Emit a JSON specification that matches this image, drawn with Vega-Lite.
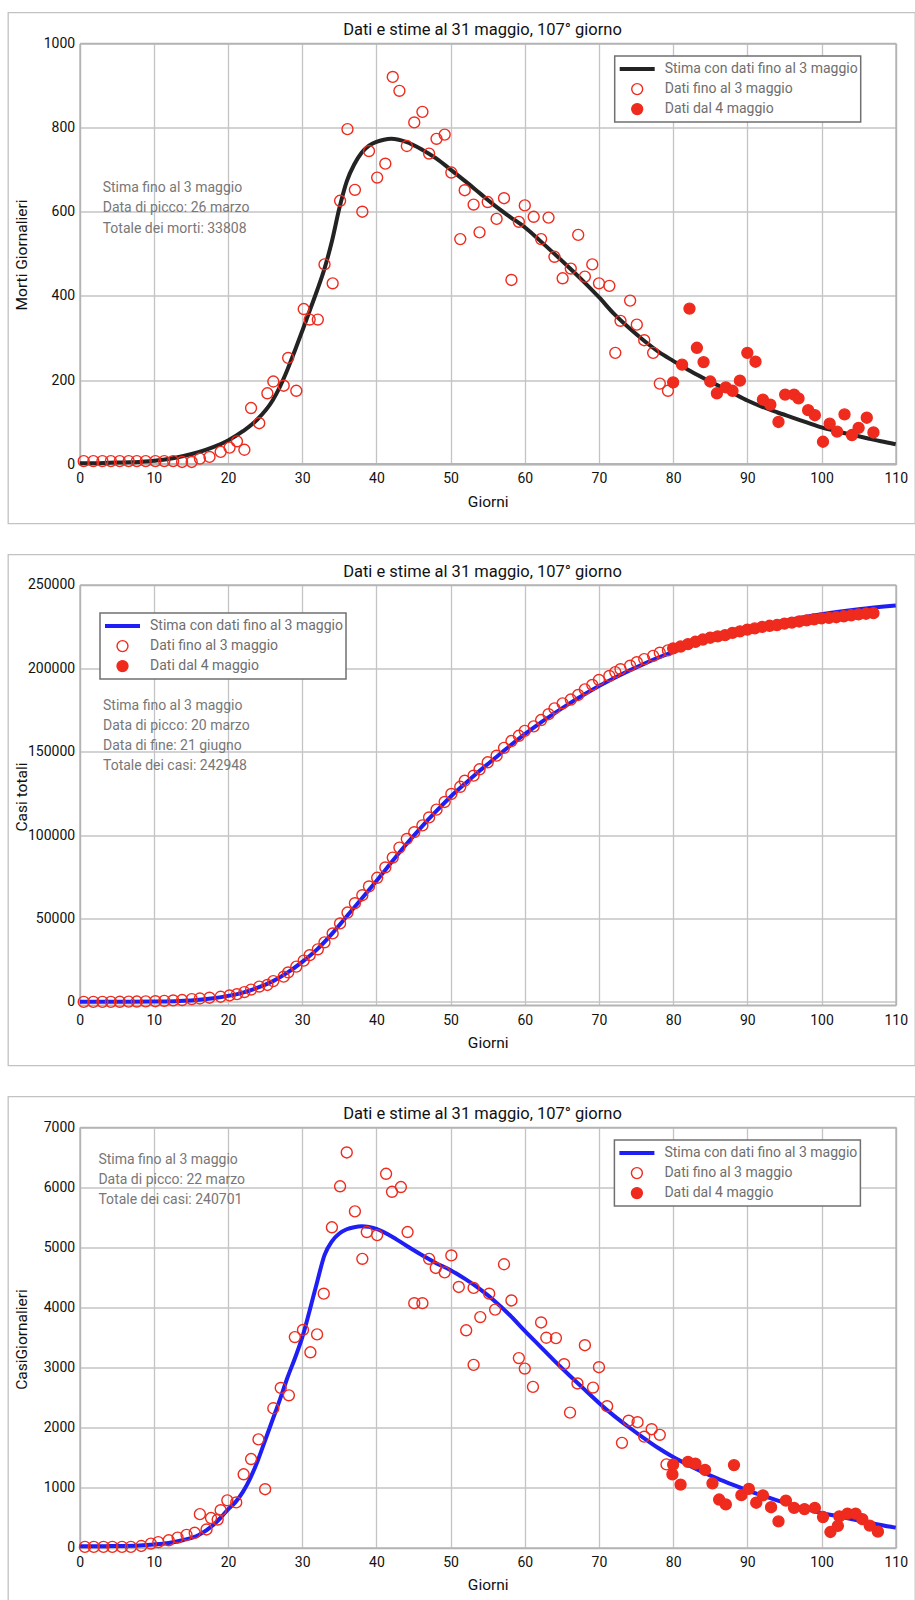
{
  "$schema": "https://vega.github.io/schema/vega-lite/v6.json",
  "padding": {"left": 7, "top": 11.5, "right": 0, "bottom": 0},
  "background": "white",
  "config": {
    "font": "Roboto",
    "view": {"stroke": "#c2c2c2", "strokeWidth": 1.3},
    "axis": {
      "labelFont": "Roboto", "labelFontSize": 14, "labelColor": "#111111",
      "titleFont": "Roboto", "titleFontSize": 15.5, "titleFontWeight": "normal", "titleColor": "#111111",
      "gridColor": "#c4c4c4", "gridWidth": 1.3, "gridOpacity": 1,
      "domainColor": "#b4b4b4", "domainWidth": 1.8,
      "ticks": false, "labelFlush": false, "labelOverlap": false, "format": "d"
    },
    "legend": {
      "labelFont": "Roboto", "labelFontSize": 14, "labelColor": "#6e6e6e", "labelLimit": 0,
      "strokeColor": "#707070", "strokeWidth": 1.5, "fillColor": "white",
      "padding": 3, "rowPadding": 0, "labelOffset": 8, "clipHeight": 20, "symbolOpacity": 1
    },
    "title": {"font": "Roboto", "fontSize": 16.5, "fontWeight": "normal", "color": "#111111", "anchor": "middle"}
  },
  "datasets": {
    "e1": [
      {"d":0,"v":3},{"d":2,"v":3},{"d":4,"v":4},{"d":6,"v":5},{"d":8,"v":6},{"d":10,"v":9},{"d":12,"v":13},{"d":14,"v":20},{"d":16,"v":29},{"d":18,"v":41},{"d":20,"v":57},{"d":22,"v":79},{"d":24,"v":108},{"d":26,"v":152},{"d":27,"v":185},{"d":28,"v":225},{"d":29,"v":270},{"d":30,"v":317},{"d":31,"v":365},{"d":32,"v":413},{"d":33,"v":465},{"d":34,"v":530},{"d":35,"v":608},{"d":36,"v":672},{"d":37,"v":712},{"d":38,"v":740},{"d":39,"v":757},{"d":40,"v":766},{"d":41,"v":771},{"d":42,"v":773},{"d":43,"v":771},{"d":44,"v":766},{"d":46,"v":749},{"d":48,"v":727},{"d":50,"v":700},{"d":52,"v":672},{"d":54,"v":643},{"d":56,"v":614},{"d":58,"v":588},{"d":60,"v":563},{"d":62,"v":532},{"d":64,"v":500},{"d":66,"v":467},{"d":68,"v":433},{"d":70,"v":397},{"d":72,"v":358},{"d":74,"v":325},{"d":76,"v":295},{"d":78,"v":268},{"d":80,"v":246},{"d":82,"v":225},{"d":84,"v":206},{"d":86,"v":188},{"d":88,"v":170},{"d":90,"v":152},{"d":92,"v":137},{"d":94,"v":124},{"d":96,"v":112},{"d":98,"v":100},{"d":100,"v":88},{"d":102,"v":79},{"d":104,"v":71},{"d":106,"v":63},{"d":108,"v":55},{"d":110,"v":48}
    ],
    "p1": [
      {"d":0.54,"v":8,"s":"Dati fino al 3 maggio"},{"d":1.84,"v":8,"s":"Dati fino al 3 maggio"},{"d":3.06,"v":8,"s":"Dati fino al 3 maggio"},{"d":4.2,"v":8,"s":"Dati fino al 3 maggio"},{"d":5.4,"v":8,"s":"Dati fino al 3 maggio"},{"d":6.6,"v":8,"s":"Dati fino al 3 maggio"},{"d":7.7,"v":8,"s":"Dati fino al 3 maggio"},{"d":8.9,"v":8,"s":"Dati fino al 3 maggio"},{"d":10.2,"v":8,"s":"Dati fino al 3 maggio"},{"d":11.4,"v":8,"s":"Dati fino al 3 maggio"},{"d":12.6,"v":8,"s":"Dati fino al 3 maggio"},{"d":13.8,"v":6,"s":"Dati fino al 3 maggio"},{"d":15.1,"v":6,"s":"Dati fino al 3 maggio"},{"d":16.2,"v":14,"s":"Dati fino al 3 maggio"},{"d":17.5,"v":18,"s":"Dati fino al 3 maggio"},{"d":19.0,"v":30,"s":"Dati fino al 3 maggio"},{"d":20.2,"v":40,"s":"Dati fino al 3 maggio"},{"d":21.2,"v":55,"s":"Dati fino al 3 maggio"},{"d":22.2,"v":35,"s":"Dati fino al 3 maggio"},{"d":23.1,"v":134,"s":"Dati fino al 3 maggio"},{"d":24.2,"v":98,"s":"Dati fino al 3 maggio"},{"d":25.3,"v":169,"s":"Dati fino al 3 maggio"},{"d":26.1,"v":197,"s":"Dati fino al 3 maggio"},{"d":27.5,"v":187,"s":"Dati fino al 3 maggio"},{"d":28.1,"v":253,"s":"Dati fino al 3 maggio"},{"d":29.2,"v":175,"s":"Dati fino al 3 maggio"},{"d":30.2,"v":369,"s":"Dati fino al 3 maggio"},{"d":31.0,"v":344,"s":"Dati fino al 3 maggio"},{"d":32.1,"v":344,"s":"Dati fino al 3 maggio"},{"d":33.0,"v":475,"s":"Dati fino al 3 maggio"},{"d":34.1,"v":430,"s":"Dati fino al 3 maggio"},{"d":35.1,"v":626,"s":"Dati fino al 3 maggio"},{"d":36.1,"v":796,"s":"Dati fino al 3 maggio"},{"d":37.1,"v":652,"s":"Dati fino al 3 maggio"},{"d":38.1,"v":600,"s":"Dati fino al 3 maggio"},{"d":39.0,"v":744,"s":"Dati fino al 3 maggio"},{"d":40.1,"v":681,"s":"Dati fino al 3 maggio"},{"d":41.2,"v":714,"s":"Dati fino al 3 maggio"},{"d":42.2,"v":920,"s":"Dati fino al 3 maggio"},{"d":43.1,"v":887,"s":"Dati fino al 3 maggio"},{"d":44.1,"v":756,"s":"Dati fino al 3 maggio"},{"d":45.1,"v":812,"s":"Dati fino al 3 maggio"},{"d":46.2,"v":837,"s":"Dati fino al 3 maggio"},{"d":47.1,"v":738,"s":"Dati fino al 3 maggio"},{"d":48.1,"v":773,"s":"Dati fino al 3 maggio"},{"d":49.2,"v":783,"s":"Dati fino al 3 maggio"},{"d":50.1,"v":693,"s":"Dati fino al 3 maggio"},{"d":51.3,"v":535,"s":"Dati fino al 3 maggio"},{"d":51.9,"v":651,"s":"Dati fino al 3 maggio"},{"d":53.1,"v":617,"s":"Dati fino al 3 maggio"},{"d":53.9,"v":551,"s":"Dati fino al 3 maggio"},{"d":55.0,"v":623,"s":"Dati fino al 3 maggio"},{"d":56.2,"v":583,"s":"Dati fino al 3 maggio"},{"d":57.2,"v":632,"s":"Dati fino al 3 maggio"},{"d":58.2,"v":438,"s":"Dati fino al 3 maggio"},{"d":59.2,"v":576,"s":"Dati fino al 3 maggio"},{"d":60.0,"v":615,"s":"Dati fino al 3 maggio"},{"d":61.2,"v":588,"s":"Dati fino al 3 maggio"},{"d":62.2,"v":535,"s":"Dati fino al 3 maggio"},{"d":63.2,"v":586,"s":"Dati fino al 3 maggio"},{"d":64.0,"v":493,"s":"Dati fino al 3 maggio"},{"d":65.1,"v":442,"s":"Dati fino al 3 maggio"},{"d":66.2,"v":465,"s":"Dati fino al 3 maggio"},{"d":67.2,"v":545,"s":"Dati fino al 3 maggio"},{"d":68.1,"v":446,"s":"Dati fino al 3 maggio"},{"d":69.1,"v":475,"s":"Dati fino al 3 maggio"},{"d":70.0,"v":430,"s":"Dati fino al 3 maggio"},{"d":71.4,"v":424,"s":"Dati fino al 3 maggio"},{"d":72.2,"v":265,"s":"Dati fino al 3 maggio"},{"d":72.9,"v":341,"s":"Dati fino al 3 maggio"},{"d":74.2,"v":389,"s":"Dati fino al 3 maggio"},{"d":75.1,"v":332,"s":"Dati fino al 3 maggio"},{"d":76.1,"v":295,"s":"Dati fino al 3 maggio"},{"d":77.3,"v":265,"s":"Dati fino al 3 maggio"},{"d":78.2,"v":192,"s":"Dati fino al 3 maggio"},{"d":79.3,"v":175,"s":"Dati fino al 3 maggio"},
      {"d":80.0,"v":195,"s":"Dati dal 4 maggio"},{"d":81.2,"v":237,"s":"Dati dal 4 maggio"},{"d":82.2,"v":370,"s":"Dati dal 4 maggio"},{"d":83.2,"v":277,"s":"Dati dal 4 maggio"},{"d":84.1,"v":243,"s":"Dati dal 4 maggio"},{"d":85.0,"v":197,"s":"Dati dal 4 maggio"},{"d":85.9,"v":169,"s":"Dati dal 4 maggio"},{"d":87.1,"v":183,"s":"Dati dal 4 maggio"},{"d":88.0,"v":175,"s":"Dati dal 4 maggio"},{"d":89.0,"v":199,"s":"Dati dal 4 maggio"},{"d":90.0,"v":265,"s":"Dati dal 4 maggio"},{"d":91.1,"v":244,"s":"Dati dal 4 maggio"},{"d":92.1,"v":154,"s":"Dati dal 4 maggio"},{"d":93.1,"v":142,"s":"Dati dal 4 maggio"},{"d":94.2,"v":101,"s":"Dati dal 4 maggio"},{"d":95.1,"v":166,"s":"Dati dal 4 maggio"},{"d":96.3,"v":166,"s":"Dati dal 4 maggio"},{"d":96.9,"v":157,"s":"Dati dal 4 maggio"},{"d":98.2,"v":129,"s":"Dati dal 4 maggio"},{"d":99.1,"v":117,"s":"Dati dal 4 maggio"},{"d":100.2,"v":54,"s":"Dati dal 4 maggio"},{"d":101.1,"v":97,"s":"Dati dal 4 maggio"},{"d":102.1,"v":78,"s":"Dati dal 4 maggio"},{"d":103.1,"v":119,"s":"Dati dal 4 maggio"},{"d":104.1,"v":70,"s":"Dati dal 4 maggio"},{"d":105.0,"v":87,"s":"Dati dal 4 maggio"},{"d":106.1,"v":111,"s":"Dati dal 4 maggio"},{"d":107.0,"v":76,"s":"Dati dal 4 maggio"}
    ],
    "e2": [
      {"d":0,"v":50},{"d":5,"v":90},{"d":10,"v":250},{"d":15,"v":900},{"d":18,"v":2200},{"d":20,"v":3600},{"d":22,"v":5600},{"d":24,"v":8500},{"d":26,"v":12300},{"d":28,"v":17500},{"d":30,"v":24000},{"d":32,"v":31500},{"d":34,"v":40800},{"d":36,"v":51300},{"d":38,"v":61800},{"d":40,"v":72500},{"d":42,"v":83500},{"d":44,"v":94300},{"d":46,"v":104500},{"d":48,"v":114000},{"d":50,"v":123000},{"d":52,"v":131000},{"d":54,"v":138800},{"d":56,"v":146200},{"d":58,"v":153500},{"d":60,"v":160500},{"d":62,"v":167000},{"d":64,"v":173000},{"d":66,"v":178800},{"d":68,"v":184200},{"d":70,"v":189300},{"d":72,"v":194000},{"d":74,"v":198400},{"d":76,"v":202500},{"d":78,"v":206300},{"d":80,"v":209800},{"d":82,"v":213000},{"d":85,"v":217500},{"d":90,"v":223600},{"d":95,"v":228500},{"d":100,"v":232400},{"d":105,"v":235400},{"d":110,"v":237600}
    ],
    "p2": [
      {"d":0.54,"v":3,"s":"Dati fino al 3 maggio"},{"d":1.84,"v":3,"s":"Dati fino al 3 maggio"},{"d":3.06,"v":3,"s":"Dati fino al 3 maggio"},{"d":4.2,"v":20,"s":"Dati fino al 3 maggio"},{"d":5.4,"v":79,"s":"Dati fino al 3 maggio"},{"d":6.6,"v":152,"s":"Dati fino al 3 maggio"},{"d":7.7,"v":229,"s":"Dati fino al 3 maggio"},{"d":8.9,"v":322,"s":"Dati fino al 3 maggio"},{"d":10.2,"v":400,"s":"Dati fino al 3 maggio"},{"d":11.4,"v":650,"s":"Dati fino al 3 maggio"},{"d":12.6,"v":888,"s":"Dati fino al 3 maggio"},{"d":13.8,"v":1128,"s":"Dati fino al 3 maggio"},{"d":15.1,"v":1694,"s":"Dati fino al 3 maggio"},{"d":16.2,"v":2036,"s":"Dati fino al 3 maggio"},{"d":17.5,"v":2502,"s":"Dati fino al 3 maggio"},{"d":19.0,"v":3089,"s":"Dati fino al 3 maggio"},{"d":20.2,"v":3858,"s":"Dati fino al 3 maggio"},{"d":21.2,"v":4636,"s":"Dati fino al 3 maggio"},{"d":22.2,"v":5883,"s":"Dati fino al 3 maggio"},{"d":23.1,"v":7375,"s":"Dati fino al 3 maggio"},{"d":24.2,"v":9172,"s":"Dati fino al 3 maggio"},{"d":25.3,"v":10149,"s":"Dati fino al 3 maggio"},{"d":26.1,"v":12462,"s":"Dati fino al 3 maggio"},{"d":27.5,"v":15113,"s":"Dati fino al 3 maggio"},{"d":28.1,"v":17660,"s":"Dati fino al 3 maggio"},{"d":29.2,"v":21157,"s":"Dati fino al 3 maggio"},{"d":30.2,"v":24747,"s":"Dati fino al 3 maggio"},{"d":31.0,"v":27980,"s":"Dati fino al 3 maggio"},{"d":32.1,"v":31506,"s":"Dati fino al 3 maggio"},{"d":33.0,"v":35713,"s":"Dati fino al 3 maggio"},{"d":34.1,"v":41035,"s":"Dati fino al 3 maggio"},{"d":35.1,"v":47021,"s":"Dati fino al 3 maggio"},{"d":36.1,"v":53578,"s":"Dati fino al 3 maggio"},{"d":37.1,"v":59138,"s":"Dati fino al 3 maggio"},{"d":38.1,"v":63927,"s":"Dati fino al 3 maggio"},{"d":39.0,"v":69176,"s":"Dati fino al 3 maggio"},{"d":40.1,"v":74386,"s":"Dati fino al 3 maggio"},{"d":41.2,"v":80589,"s":"Dati fino al 3 maggio"},{"d":42.2,"v":86498,"s":"Dati fino al 3 maggio"},{"d":43.1,"v":92472,"s":"Dati fino al 3 maggio"},{"d":44.1,"v":97689,"s":"Dati fino al 3 maggio"},{"d":45.1,"v":101739,"s":"Dati fino al 3 maggio"},{"d":46.2,"v":105792,"s":"Dati fino al 3 maggio"},{"d":47.1,"v":110574,"s":"Dati fino al 3 maggio"},{"d":48.1,"v":115242,"s":"Dati fino al 3 maggio"},{"d":49.2,"v":119827,"s":"Dati fino al 3 maggio"},{"d":50.1,"v":124632,"s":"Dati fino al 3 maggio"},{"d":51.3,"v":128948,"s":"Dati fino al 3 maggio"},{"d":51.9,"v":132547,"s":"Dati fino al 3 maggio"},{"d":53.1,"v":135586,"s":"Dati fino al 3 maggio"},{"d":53.9,"v":139422,"s":"Dati fino al 3 maggio"},{"d":55.0,"v":143626,"s":"Dati fino al 3 maggio"},{"d":56.2,"v":147577,"s":"Dati fino al 3 maggio"},{"d":57.2,"v":152271,"s":"Dati fino al 3 maggio"},{"d":58.2,"v":156363,"s":"Dati fino al 3 maggio"},{"d":59.2,"v":159516,"s":"Dati fino al 3 maggio"},{"d":60.0,"v":162488,"s":"Dati fino al 3 maggio"},{"d":61.2,"v":165155,"s":"Dati fino al 3 maggio"},{"d":62.2,"v":168941,"s":"Dati fino al 3 maggio"},{"d":63.2,"v":172434,"s":"Dati fino al 3 maggio"},{"d":64.0,"v":175925,"s":"Dati fino al 3 maggio"},{"d":65.1,"v":178972,"s":"Dati fino al 3 maggio"},{"d":66.2,"v":181228,"s":"Dati fino al 3 maggio"},{"d":67.2,"v":183957,"s":"Dati fino al 3 maggio"},{"d":68.1,"v":187327,"s":"Dati fino al 3 maggio"},{"d":69.1,"v":189973,"s":"Dati fino al 3 maggio"},{"d":70.0,"v":192994,"s":"Dati fino al 3 maggio"},{"d":71.4,"v":195351,"s":"Dati fino al 3 maggio"},{"d":72.2,"v":197675,"s":"Dati fino al 3 maggio"},{"d":72.9,"v":199414,"s":"Dati fino al 3 maggio"},{"d":74.2,"v":201505,"s":"Dati fino al 3 maggio"},{"d":75.1,"v":203591,"s":"Dati fino al 3 maggio"},{"d":76.1,"v":205463,"s":"Dati fino al 3 maggio"},{"d":77.3,"v":207428,"s":"Dati fino al 3 maggio"},{"d":78.2,"v":209328,"s":"Dati fino al 3 maggio"},{"d":79.3,"v":210717,"s":"Dati fino al 3 maggio"},
      {"d":80,"v":211938,"s":"Dati dal 4 maggio"},{"d":81,"v":213013,"s":"Dati dal 4 maggio"},{"d":82,"v":214457,"s":"Dati dal 4 maggio"},{"d":83,"v":215858,"s":"Dati dal 4 maggio"},{"d":84,"v":217185,"s":"Dati dal 4 maggio"},{"d":85,"v":218268,"s":"Dati dal 4 maggio"},{"d":86,"v":219070,"s":"Dati dal 4 maggio"},{"d":87,"v":219814,"s":"Dati dal 4 maggio"},{"d":88,"v":221216,"s":"Dati dal 4 maggio"},{"d":89,"v":222104,"s":"Dati dal 4 maggio"},{"d":90,"v":223096,"s":"Dati dal 4 maggio"},{"d":91,"v":223885,"s":"Dati dal 4 maggio"},{"d":92,"v":224760,"s":"Dati dal 4 maggio"},{"d":93,"v":225435,"s":"Dati dal 4 maggio"},{"d":94,"v":225886,"s":"Dati dal 4 maggio"},{"d":95,"v":226699,"s":"Dati dal 4 maggio"},{"d":96,"v":227364,"s":"Dati dal 4 maggio"},{"d":97,"v":228006,"s":"Dati dal 4 maggio"},{"d":98,"v":228658,"s":"Dati dal 4 maggio"},{"d":99,"v":229327,"s":"Dati dal 4 maggio"},{"d":100,"v":229858,"s":"Dati dal 4 maggio"},{"d":101,"v":230158,"s":"Dati dal 4 maggio"},{"d":102,"v":230555,"s":"Dati dal 4 maggio"},{"d":103,"v":231139,"s":"Dati dal 4 maggio"},{"d":104,"v":231732,"s":"Dati dal 4 maggio"},{"d":105,"v":232248,"s":"Dati dal 4 maggio"},{"d":106,"v":232664,"s":"Dati dal 4 maggio"},{"d":107,"v":233019,"s":"Dati dal 4 maggio"}
    ],
    "e3": [
      {"d":0,"v":25},{"d":2,"v":25},{"d":4,"v":28},{"d":6,"v":32},{"d":8,"v":40},{"d":10,"v":55},{"d":12,"v":80},{"d":14,"v":130},{"d":16,"v":210},{"d":18,"v":380},{"d":19,"v":500},{"d":20,"v":640},{"d":21,"v":760},{"d":22,"v":930},{"d":23,"v":1160},{"d":24,"v":1450},{"d":25,"v":1790},{"d":26,"v":2130},{"d":27,"v":2470},{"d":28,"v":2830},{"d":29,"v":3150},{"d":30,"v":3500},{"d":31,"v":3950},{"d":32,"v":4420},{"d":33,"v":4870},{"d":34,"v":5100},{"d":35,"v":5230},{"d":36,"v":5300},{"d":37,"v":5335},{"d":38,"v":5350},{"d":39,"v":5340},{"d":40,"v":5305},{"d":42,"v":5185},{"d":44,"v":5030},{"d":46,"v":4880},{"d":48,"v":4740},{"d":50,"v":4620},{"d":52,"v":4470},{"d":54,"v":4300},{"d":56,"v":4100},{"d":58,"v":3870},{"d":60,"v":3610},{"d":62,"v":3360},{"d":64,"v":3110},{"d":66,"v":2870},{"d":68,"v":2640},{"d":70,"v":2410},{"d":72,"v":2200},{"d":74,"v":2010},{"d":76,"v":1830},{"d":78,"v":1660},{"d":80,"v":1510},{"d":82,"v":1380},{"d":84,"v":1260},{"d":86,"v":1150},{"d":88,"v":1050},{"d":90,"v":955},{"d":92,"v":870},{"d":94,"v":790},{"d":96,"v":715},{"d":98,"v":645},{"d":100,"v":580},{"d":102,"v":530},{"d":104,"v":480},{"d":106,"v":430},{"d":108,"v":380},{"d":110,"v":335}
    ],
    "p3": [
      {"d":0.7,"v":15,"s":"Dati fino al 3 maggio"},{"d":1.9,"v":15,"s":"Dati fino al 3 maggio"},{"d":3.2,"v":15,"s":"Dati fino al 3 maggio"},{"d":4.4,"v":15,"s":"Dati fino al 3 maggio"},{"d":5.7,"v":15,"s":"Dati fino al 3 maggio"},{"d":6.9,"v":15,"s":"Dati fino al 3 maggio"},{"d":8.3,"v":30,"s":"Dati fino al 3 maggio"},{"d":9.6,"v":70,"s":"Dati fino al 3 maggio"},{"d":10.6,"v":95,"s":"Dati fino al 3 maggio"},{"d":12.0,"v":125,"s":"Dati fino al 3 maggio"},{"d":13.2,"v":170,"s":"Dati fino al 3 maggio"},{"d":14.4,"v":215,"s":"Dati fino al 3 maggio"},{"d":15.5,"v":250,"s":"Dati fino al 3 maggio"},{"d":16.2,"v":560,"s":"Dati fino al 3 maggio"},{"d":17.1,"v":305,"s":"Dati fino al 3 maggio"},{"d":17.7,"v":495,"s":"Dati fino al 3 maggio"},{"d":18.6,"v":470,"s":"Dati fino al 3 maggio"},{"d":19.0,"v":625,"s":"Dati fino al 3 maggio"},{"d":19.9,"v":790,"s":"Dati fino al 3 maggio"},{"d":21.1,"v":755,"s":"Dati fino al 3 maggio"},{"d":22.1,"v":1223,"s":"Dati fino al 3 maggio"},{"d":23.1,"v":1477,"s":"Dati fino al 3 maggio"},{"d":24.1,"v":1804,"s":"Dati fino al 3 maggio"},{"d":25.0,"v":975,"s":"Dati fino al 3 maggio"},{"d":26.1,"v":2322,"s":"Dati fino al 3 maggio"},{"d":27.1,"v":2660,"s":"Dati fino al 3 maggio"},{"d":28.2,"v":2537,"s":"Dati fino al 3 maggio"},{"d":29.0,"v":3506,"s":"Dati fino al 3 maggio"},{"d":30.1,"v":3625,"s":"Dati fino al 3 maggio"},{"d":31.1,"v":3253,"s":"Dati fino al 3 maggio"},{"d":32.0,"v":3551,"s":"Dati fino al 3 maggio"},{"d":32.9,"v":4228,"s":"Dati fino al 3 maggio"},{"d":34.0,"v":5333,"s":"Dati fino al 3 maggio"},{"d":35.1,"v":6015,"s":"Dati fino al 3 maggio"},{"d":36.0,"v":6578,"s":"Dati fino al 3 maggio"},{"d":37.1,"v":5598,"s":"Dati fino al 3 maggio"},{"d":38.1,"v":4808,"s":"Dati fino al 3 maggio"},{"d":38.7,"v":5254,"s":"Dati fino al 3 maggio"},{"d":40.1,"v":5203,"s":"Dati fino al 3 maggio"},{"d":41.3,"v":6223,"s":"Dati fino al 3 maggio"},{"d":42.1,"v":5924,"s":"Dati fino al 3 maggio"},{"d":43.3,"v":6003,"s":"Dati fino al 3 maggio"},{"d":44.2,"v":5254,"s":"Dati fino al 3 maggio"},{"d":45.1,"v":4070,"s":"Dati fino al 3 maggio"},{"d":46.2,"v":4070,"s":"Dati fino al 3 maggio"},{"d":47.1,"v":4808,"s":"Dati fino al 3 maggio"},{"d":48.0,"v":4656,"s":"Dati fino al 3 maggio"},{"d":49.2,"v":4583,"s":"Dati fino al 3 maggio"},{"d":50.1,"v":4865,"s":"Dati fino al 3 maggio"},{"d":51.1,"v":4340,"s":"Dati fino al 3 maggio"},{"d":52.1,"v":3619,"s":"Dati fino al 3 maggio"},{"d":53.1,"v":3044,"s":"Dati fino al 3 maggio"},{"d":53.1,"v":4324,"s":"Dati fino al 3 maggio"},{"d":54.0,"v":3839,"s":"Dati fino al 3 maggio"},{"d":55.2,"v":4228,"s":"Dati fino al 3 maggio"},{"d":56.0,"v":3963,"s":"Dati fino al 3 maggio"},{"d":57.2,"v":4718,"s":"Dati fino al 3 maggio"},{"d":58.2,"v":4115,"s":"Dati fino al 3 maggio"},{"d":59.2,"v":3157,"s":"Dati fino al 3 maggio"},{"d":60.0,"v":2982,"s":"Dati fino al 3 maggio"},{"d":61.1,"v":2678,"s":"Dati fino al 3 maggio"},{"d":62.2,"v":3749,"s":"Dati fino al 3 maggio"},{"d":62.9,"v":3495,"s":"Dati fino al 3 maggio"},{"d":64.2,"v":3489,"s":"Dati fino al 3 maggio"},{"d":65.3,"v":3055,"s":"Dati fino al 3 maggio"},{"d":66.1,"v":2249,"s":"Dati fino al 3 maggio"},{"d":67.1,"v":2734,"s":"Dati fino al 3 maggio"},{"d":68.1,"v":3371,"s":"Dati fino al 3 maggio"},{"d":69.2,"v":2666,"s":"Dati fino al 3 maggio"},{"d":70.0,"v":3005,"s":"Dati fino al 3 maggio"},{"d":71.1,"v":2356,"s":"Dati fino al 3 maggio"},{"d":73.1,"v":1747,"s":"Dati fino al 3 maggio"},{"d":74.0,"v":2115,"s":"Dati fino al 3 maggio"},{"d":75.2,"v":2090,"s":"Dati fino al 3 maggio"},{"d":76.1,"v":1849,"s":"Dati fino al 3 maggio"},{"d":77.1,"v":1973,"s":"Dati fino al 3 maggio"},{"d":78.2,"v":1880,"s":"Dati fino al 3 maggio"},{"d":79.1,"v":1388,"s":"Dati fino al 3 maggio"},
      {"d":80.0,"v":1385,"s":"Dati dal 4 maggio"},{"d":79.9,"v":1222,"s":"Dati dal 4 maggio"},{"d":81.0,"v":1052,"s":"Dati dal 4 maggio"},{"d":82.0,"v":1430,"s":"Dati dal 4 maggio"},{"d":83.0,"v":1400,"s":"Dati dal 4 maggio"},{"d":84.3,"v":1295,"s":"Dati dal 4 maggio"},{"d":85.3,"v":1072,"s":"Dati dal 4 maggio"},{"d":86.2,"v":803,"s":"Dati dal 4 maggio"},{"d":87.1,"v":722,"s":"Dati dal 4 maggio"},{"d":88.2,"v":1376,"s":"Dati dal 4 maggio"},{"d":89.2,"v":876,"s":"Dati dal 4 maggio"},{"d":90.2,"v":980,"s":"Dati dal 4 maggio"},{"d":91.2,"v":750,"s":"Dati dal 4 maggio"},{"d":92.1,"v":873,"s":"Dati dal 4 maggio"},{"d":93.2,"v":675,"s":"Dati dal 4 maggio"},{"d":94.2,"v":440,"s":"Dati dal 4 maggio"},{"d":95.2,"v":786,"s":"Dati dal 4 maggio"},{"d":96.3,"v":664,"s":"Dati dal 4 maggio"},{"d":97.7,"v":644,"s":"Dati dal 4 maggio"},{"d":99.1,"v":664,"s":"Dati dal 4 maggio"},{"d":100.2,"v":512,"s":"Dati dal 4 maggio"},{"d":101.2,"v":263,"s":"Dati dal 4 maggio"},{"d":102.2,"v":364,"s":"Dati dal 4 maggio"},{"d":102.4,"v":524,"s":"Dati dal 4 maggio"},{"d":103.5,"v":568,"s":"Dati dal 4 maggio"},{"d":104.6,"v":568,"s":"Dati dal 4 maggio"},{"d":105.5,"v":476,"s":"Dati dal 4 maggio"},{"d":106.5,"v":369,"s":"Dati dal 4 maggio"},{"d":107.6,"v":269,"s":"Dati dal 4 maggio"}
    ]
  },
  "resolve": {"scale": {"stroke": "independent", "fill": "independent", "shape": "independent", "size": "independent", "strokeWidth": "independent"}},
  "spacing": 29,
  "vconcat": [
    {
      "width": 907, "height": 511,
      "title": {"text": "Dati e stime al 31 maggio, 107° giorno", "offset": -26, "dx": 21},
      "resolve": {"axis": {"x": "independent", "y": "independent"}},
      "layer": [
        {
          "data": {"name": "e1"},
          "mark": {"type": "line", "color": "#232323", "strokeWidth": 4, "interpolate": "monotone"},
          "encoding": {
            "x": {"field": "d", "type": "quantitative", "scale": {"domain": [0, 110], "range": [71.7, 887.7], "nice": false, "zero": false},
                  "axis": {"orient": "bottom", "offset": -60, "values": [0,10,20,30,40,50,60,70,80,90,100,110], "grid": false, "labelPadding": 7.5, "title": "Giorni", "titleX": 479.7, "titleY": 37.5, "titleBaseline": "middle"}},
            "y": {"field": "v", "type": "quantitative", "scale": {"domain": [0, 1000], "range": [452, 30.7], "nice": false, "zero": false},
                  "axis": {"orient": "left", "offset": -71.7, "values": [0,200,400,600,800,1000], "grid": true, "labelPadding": 5, "title": "Morti Giornalieri", "titleX": -58, "titleY": 242, "titleBaseline": "middle", "titleAngle": -90}}
          }
        },
        {
          "data": {"name": "p1"},
          "mark": {"type": "point", "filled": true, "opacity": 1},
          "encoding": {
            "x": {"field": "d", "type": "quantitative", "scale": {"domain": [0, 110], "range": [71.7, 887.7], "nice": false, "zero": false},
                  "axis": {"orient": "top", "offset": -30.7, "values": [0,10,20,30,40,50,60,70,80,90,100,110], "grid": true, "labels": false, "title": null}},
            "y": {"field": "v", "type": "quantitative", "scale": {"domain": [0, 1000], "range": [452, 30.7], "nice": false, "zero": false},
                  "axis": {"orient": "right", "offset": -19.3, "grid": false, "labels": false, "title": null}},
            "stroke": {"field": "s", "type": "nominal", "scale": {"domain": ["Stima con dati fino al 3 maggio", "Dati fino al 3 maggio", "Dati dal 4 maggio"], "range": ["#232323", "#ef2b1e", "#ef2b1e"]},
                       "legend": {"title": null, "orient": "none", "legendX": 606.7, "legendY": 43.6}},
            "fill": {"field": "s", "type": "nominal", "scale": {"domain": ["Stima con dati fino al 3 maggio", "Dati fino al 3 maggio", "Dati dal 4 maggio"], "range": ["transparent", "transparent", "#ef2b1e"]}, "legend": {"title": null, "orient": "none", "legendX": 606.7, "legendY": 43.6}},
            "shape": {"field": "s", "type": "nominal", "scale": {"domain": ["Stima con dati fino al 3 maggio", "Dati fino al 3 maggio", "Dati dal 4 maggio"], "range": ["stroke", "circle", "circle"]}, "legend": {"title": null, "orient": "none", "legendX": 606.7, "legendY": 43.6}},
            "size": {"field": "s", "type": "nominal", "scale": {"type": "ordinal", "domain": ["Stima con dati fino al 3 maggio", "Dati fino al 3 maggio", "Dati dal 4 maggio"], "range": [1225, 120, 120]}, "legend": {"title": null, "orient": "none", "legendX": 606.7, "legendY": 43.6}},
            "strokeWidth": {"field": "s", "type": "nominal", "scale": {"type": "ordinal", "domain": ["Stima con dati fino al 3 maggio", "Dati fino al 3 maggio", "Dati dal 4 maggio"], "range": [4, 1.4, 1.4]}, "legend": {"title": null, "orient": "none", "legendX": 606.7, "legendY": 43.6}}
          }
        },
        {
          "data": {"values": [{}]},
          "mark": {"type": "text", "text": ["Stima fino al 3 maggio", "Data di picco: 26 marzo", "Totale dei morti: 33808"], "align": "left", "baseline": "top", "lineHeight": 20.5, "fontSize": 14, "color": "#777777"},
          "encoding": {
            "x": {"datum": 3.1, "type": "quantitative", "scale": {"domain": [0, 110], "range": [71.7, 887.7], "nice": false, "zero": false}, "axis": null},
            "y": {"datum": 673, "type": "quantitative", "scale": {"domain": [0, 1000], "range": [452, 30.7], "nice": false, "zero": false}, "axis": null}
          }
        }
      ]
    },
    {
      "width": 907, "height": 511,
      "title": {"text": "Dati e stime al 31 maggio, 107° giorno", "offset": -26, "dx": 21},
      "resolve": {"axis": {"x": "independent", "y": "independent"}},
      "layer": [
        {
          "data": {"name": "e2"},
          "mark": {"type": "line", "color": "#1e1ef5", "strokeWidth": 4, "interpolate": "monotone"},
          "encoding": {
            "x": {"field": "d", "type": "quantitative", "scale": {"domain": [0, 110], "range": [71.7, 887.7], "nice": false, "zero": false},
                  "axis": {"orient": "bottom", "offset": -60.5, "values": [0,10,20,30,40,50,60,70,80,90,100,110], "grid": false, "labelPadding": 8, "title": "Giorni", "titleX": 479.7, "titleY": 37, "titleBaseline": "middle"}},
            "y": {"field": "v", "type": "quantitative", "scale": {"domain": [-1860, 250000], "range": [450.5, 30.3], "nice": false, "zero": false},
                  "axis": {"orient": "left", "offset": -71.7, "values": [0,50000,100000,150000,200000,250000], "grid": true, "labelPadding": 5, "title": "Casi totali", "titleX": -58, "titleY": 242, "titleBaseline": "middle", "titleAngle": -90}}
          }
        },
        {
          "data": {"name": "p2"},
          "mark": {"type": "point", "filled": true, "opacity": 1},
          "encoding": {
            "x": {"field": "d", "type": "quantitative", "scale": {"domain": [0, 110], "range": [71.7, 887.7], "nice": false, "zero": false},
                  "axis": {"orient": "top", "offset": -30.3, "values": [0,10,20,30,40,50,60,70,80,90,100,110], "grid": true, "labels": false, "title": null}},
            "y": {"field": "v", "type": "quantitative", "scale": {"domain": [-1860, 250000], "range": [450.5, 30.3], "nice": false, "zero": false},
                  "axis": {"orient": "right", "offset": -19.3, "grid": false, "labels": false, "title": null}},
            "stroke": {"field": "s", "type": "nominal", "scale": {"domain": ["Stima con dati fino al 3 maggio", "Dati fino al 3 maggio", "Dati dal 4 maggio"], "range": ["#1e1ef5", "#ef2b1e", "#ef2b1e"]},
                       "legend": {"title": null, "orient": "none", "legendX": 92, "legendY": 58.6}},
            "fill": {"field": "s", "type": "nominal", "scale": {"domain": ["Stima con dati fino al 3 maggio", "Dati fino al 3 maggio", "Dati dal 4 maggio"], "range": ["transparent", "transparent", "#ef2b1e"]}, "legend": {"title": null, "orient": "none", "legendX": 92, "legendY": 58.6}},
            "shape": {"field": "s", "type": "nominal", "scale": {"domain": ["Stima con dati fino al 3 maggio", "Dati fino al 3 maggio", "Dati dal 4 maggio"], "range": ["stroke", "circle", "circle"]}, "legend": {"title": null, "orient": "none", "legendX": 92, "legendY": 58.6}},
            "size": {"field": "s", "type": "nominal", "scale": {"type": "ordinal", "domain": ["Stima con dati fino al 3 maggio", "Dati fino al 3 maggio", "Dati dal 4 maggio"], "range": [1225, 120, 120]}, "legend": {"title": null, "orient": "none", "legendX": 92, "legendY": 58.6}},
            "strokeWidth": {"field": "s", "type": "nominal", "scale": {"type": "ordinal", "domain": ["Stima con dati fino al 3 maggio", "Dati fino al 3 maggio", "Dati dal 4 maggio"], "range": [4, 1.4, 1.4]}, "legend": {"title": null, "orient": "none", "legendX": 92, "legendY": 58.6}}
          }
        },
        {
          "data": {"values": [{}]},
          "mark": {"type": "text", "text": ["Stima fino al 3 maggio", "Data di picco: 20 marzo", "Data di fine: 21 giugno", "Totale dei casi: 242948"], "align": "left", "baseline": "top", "lineHeight": 19.9, "fontSize": 14, "color": "#777777"},
          "encoding": {
            "x": {"datum": 3.14, "type": "quantitative", "scale": {"domain": [0, 110], "range": [71.7, 887.7], "nice": false, "zero": false}, "axis": null},
            "y": {"datum": 181300, "type": "quantitative", "scale": {"domain": [-1860, 250000], "range": [450.5, 30.3], "nice": false, "zero": false}, "axis": null}
          }
        }
      ]
    },
    {
      "width": 907, "height": 511,
      "title": {"text": "Dati e stime al 31 maggio, 107° giorno", "offset": -26, "dx": 21},
      "resolve": {"axis": {"x": "independent", "y": "independent"}},
      "layer": [
        {
          "data": {"name": "e3"},
          "mark": {"type": "line", "color": "#1e1ef5", "strokeWidth": 4, "interpolate": "monotone"},
          "encoding": {
            "x": {"field": "d", "type": "quantitative", "scale": {"domain": [0, 110], "range": [71.7, 887.7], "nice": false, "zero": false},
                  "axis": {"orient": "bottom", "offset": -59.7, "values": [0,10,20,30,40,50,60,70,80,90,100,110], "grid": false, "labelPadding": 8, "title": "Giorni", "titleX": 479.7, "titleY": 37, "titleBaseline": "middle"}},
            "y": {"field": "v", "type": "quantitative", "scale": {"domain": [0, 7000], "range": [451.3, 30.6], "nice": false, "zero": false},
                  "axis": {"orient": "left", "offset": -71.7, "values": [0,1000,2000,3000,4000,5000,6000,7000], "grid": true, "labelPadding": 5, "title": "CasiGiornalieri", "titleX": -58, "titleY": 242.5, "titleBaseline": "middle", "titleAngle": -90}}
          }
        },
        {
          "data": {"name": "p3"},
          "mark": {"type": "point", "filled": true, "opacity": 1},
          "encoding": {
            "x": {"field": "d", "type": "quantitative", "scale": {"domain": [0, 110], "range": [71.7, 887.7], "nice": false, "zero": false},
                  "axis": {"orient": "top", "offset": -30.6, "values": [0,10,20,30,40,50,60,70,80,90,100,110], "grid": true, "labels": false, "title": null}},
            "y": {"field": "v", "type": "quantitative", "scale": {"domain": [0, 7000], "range": [451.3, 30.6], "nice": false, "zero": false},
                  "axis": {"orient": "right", "offset": -19.3, "grid": false, "labels": false, "title": null}},
            "stroke": {"field": "s", "type": "nominal", "scale": {"domain": ["Stima con dati fino al 3 maggio", "Dati fino al 3 maggio", "Dati dal 4 maggio"], "range": ["#1e1ef5", "#ef2b1e", "#ef2b1e"]},
                       "legend": {"title": null, "orient": "none", "legendX": 606.4, "legendY": 43.6}},
            "fill": {"field": "s", "type": "nominal", "scale": {"domain": ["Stima con dati fino al 3 maggio", "Dati fino al 3 maggio", "Dati dal 4 maggio"], "range": ["transparent", "transparent", "#ef2b1e"]}, "legend": {"title": null, "orient": "none", "legendX": 606.4, "legendY": 43.6}},
            "shape": {"field": "s", "type": "nominal", "scale": {"domain": ["Stima con dati fino al 3 maggio", "Dati fino al 3 maggio", "Dati dal 4 maggio"], "range": ["stroke", "circle", "circle"]}, "legend": {"title": null, "orient": "none", "legendX": 606.4, "legendY": 43.6}},
            "size": {"field": "s", "type": "nominal", "scale": {"type": "ordinal", "domain": ["Stima con dati fino al 3 maggio", "Dati fino al 3 maggio", "Dati dal 4 maggio"], "range": [1225, 120, 120]}, "legend": {"title": null, "orient": "none", "legendX": 606.4, "legendY": 43.6}},
            "strokeWidth": {"field": "s", "type": "nominal", "scale": {"type": "ordinal", "domain": ["Stima con dati fino al 3 maggio", "Dati fino al 3 maggio", "Dati dal 4 maggio"], "range": [4, 1.4, 1.4]}, "legend": {"title": null, "orient": "none", "legendX": 606.4, "legendY": 43.6}}
          }
        },
        {
          "data": {"values": [{}]},
          "mark": {"type": "text", "text": ["Stima fino al 3 maggio", "Data di picco: 22 marzo", "Totale dei casi: 240701"], "align": "left", "baseline": "top", "lineHeight": 19.8, "fontSize": 14, "color": "#777777"},
          "encoding": {
            "x": {"datum": 2.52, "type": "quantitative", "scale": {"domain": [0, 110], "range": [71.7, 887.7], "nice": false, "zero": false}, "axis": null},
            "y": {"datum": 6566, "type": "quantitative", "scale": {"domain": [0, 7000], "range": [451.3, 30.6], "nice": false, "zero": false}, "axis": null}
          }
        }
      ]
    }
  ]
}
